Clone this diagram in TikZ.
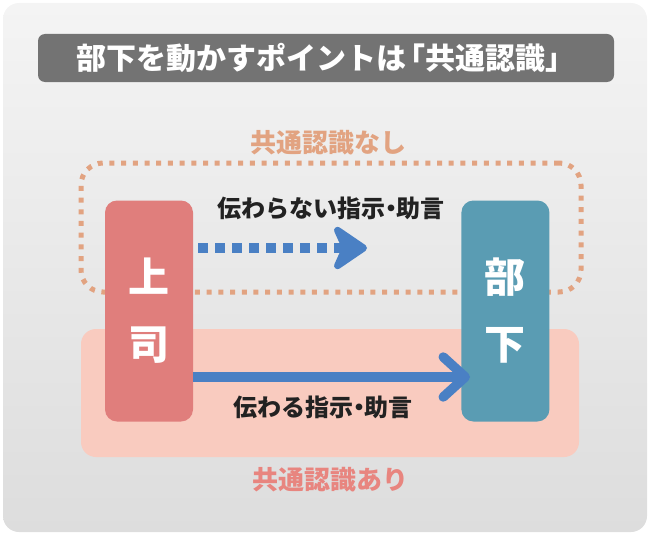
\documentclass[tikz,border=0pt]{standalone}
\usepackage{fontspec}
\setmainfont{Noto Sans CJK JP}
\usetikzlibrary{arrows.meta}
\definecolor{bgtop}{HTML}{F4F4F4}
\definecolor{bgbot}{HTML}{DDDDDD}
\definecolor{titlebar}{HTML}{737373}
\definecolor{dotorange}{HTML}{E2A381}
\definecolor{pinkfill}{HTML}{F9CBBF}
\definecolor{pinktext}{HTML}{E8857F}
\definecolor{bossfill}{HTML}{E07E7C}
\definecolor{subfill}{HTML}{5A9CB3}
\definecolor{arrowblue}{HTML}{4A80C4}
\definecolor{labeltext}{HTML}{222222}
\newcommand{\kdot}{\hspace{-0.27em}・\hspace{-0.27em}}
\tikzset{
  titlebox/.style={fill=titlebar, rounded corners=7pt, minimum width=576pt, minimum height=48pt,
    text=white, font=\fontsize{30}{32}\selectfont\bfseries, inner sep=0pt},
  pinkarea/.style={fill=pinkfill, rounded corners=15pt, minimum width=498pt, minimum height=128pt, inner sep=0pt},
  dotarea/.style={draw=dotorange, line width=5pt, dash pattern=on 5pt off 6.7pt, rounded corners=22pt,
    minimum width=500pt, minimum height=129pt, inner sep=0pt},
  person/.style={rounded corners=12pt, minimum width=88pt, minimum height=221pt, inner sep=0pt,
    text=white, align=center, font=\fontsize{41}{67}\selectfont\bfseries},
  msg/.style={text=labeltext, font=\fontsize{24}{26}\selectfont\bfseries, inner sep=0pt},
  grouplabel/.style={font=\fontsize{26}{28}\selectfont\bfseries, inner sep=0pt},
  dasharrow/.style={draw=arrowblue, line width=9.5pt, dash pattern=on 10pt off 7pt,
    -{Stealth[length=40pt, width=54pt, inset=12pt, round]}},
  solidarrow/.style={draw=arrowblue, line width=9.5pt,
    -{Straight Barb[length=22pt, width=40pt, round]}}
}
\begin{document}
\begin{tikzpicture}[x=1pt,y=-1pt]
\useasboundingbox (0,0) rectangle (650,535);
\shade[top color=bgtop, bottom color=bgbot, rounded corners=16pt] (3,3) rectangle (647,532);
\node[titlebox] (title) at (326,58) {部下を動かすポイントは\hspace{-0.35em}「共通認識」\hspace{-0.35em}};
\node[pinkarea] (yesarea) at (330,393) {};
\node[dotarea] (noarea) at (331,227.5) {};
\node[grouplabel, text=dotorange] (nohead) at (328,143) {共通認識なし};
\node[grouplabel, text=pinktext] (yeshead) at (330,480) {共通認識あり};
\node[person, fill=bossfill] (boss) at (149,311) {上\\司};
\node[person, fill=subfill] (sub) at (505.4,311) {部\\下};
\coordinate (d0) at (198,248);
\coordinate (d1) at (367,248);
\coordinate (s1) at (470,377);
\draw[dasharrow] (d0) -- (d1);
\draw[solidarrow] (boss.east |- s1) -- (s1);
\node[msg] (nomsg) at (331,208) {伝わらない指示\kdot 助言};
\node[msg] (yesmsg) at (323,407) {伝わる指示\kdot 助言};
\end{tikzpicture}
\end{document}
